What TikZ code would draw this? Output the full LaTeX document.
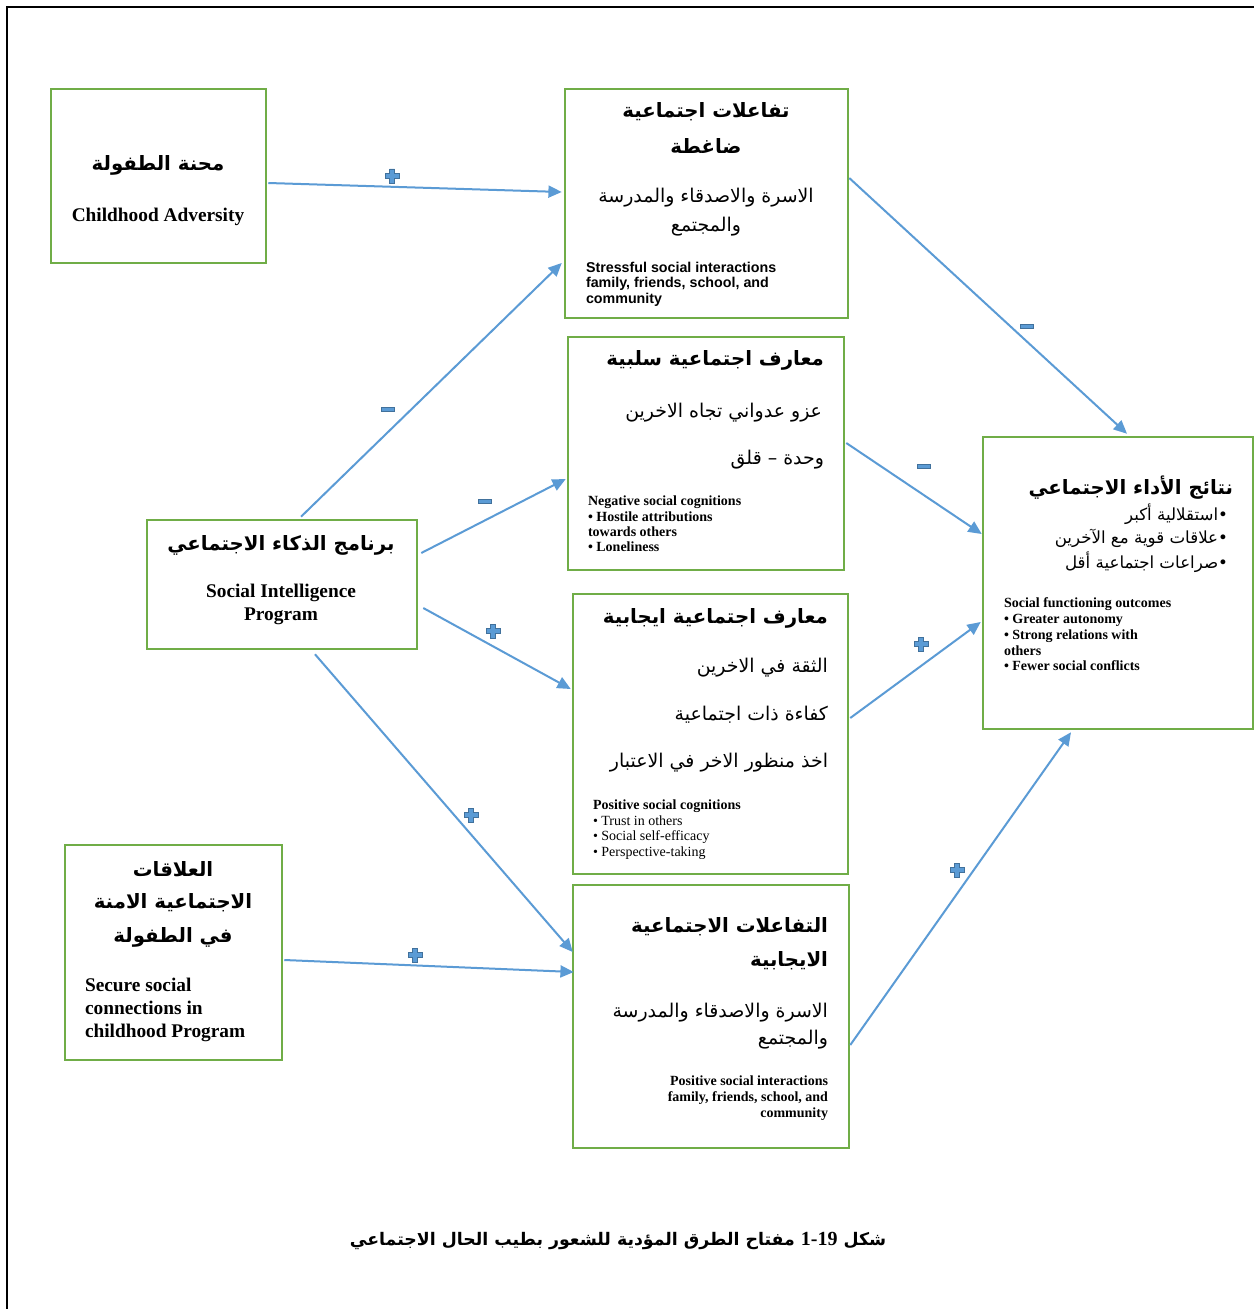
\documentclass[tikz,border=0pt]{standalone}
\usepackage{fontspec}
\setmainfont{Liberation Serif}
\newfontfamily\arf[Script=Arabic]{DejaVu Sans}
\newfontfamily\arialf{Liberation Sans}
\TeXXeTstate=1
\usetikzlibrary{arrows.meta,calc}
\definecolor{boxgreen}{HTML}{70AD47}
\definecolor{arrblue}{HTML}{5B9BD5}
\definecolor{signedge}{HTML}{41719C}
\newcommand\AR[1]{\beginR #1\endR}
\newcommand\mkbox[5]{\node[box, minimum width={(#4-#2)*0.75pt}, minimum height={(#5-#3)*0.75pt}] (#1) at ({(#2+#4)/2},{(#3+#5)/2}) {};}
\tikzset{
  box/.style={draw=boxgreen, line width=1.9pt, rectangle, inner sep=0pt, fill=white},
  arr/.style={draw=arrblue, line width=1.5pt, -{Triangle[length=10pt,width=9pt]}},
  txt/.style={inner sep=0pt, outer sep=0pt},
  artitle/.style={txt, font=\arf\bfseries\fontsize{14.8}{17}\selectfont},
  arreg/.style={txt, font=\arf\fontsize{14.2}{17}\selectfont},
  arsmall/.style={txt, font=\arf\fontsize{12.5}{15}\selectfont},
  enbig/.style={txt, font=\rmfamily\bfseries\fontsize{14.5}{17.3}\selectfont},
  ensmall/.style={txt, font=\rmfamily\bfseries\fontsize{10.5}{11.6}\selectfont},
  pluspic/.pic={\path[fill=arrblue, draw=signedge, line width=0.6pt]
    (-7,-2.5) -- (-2.5,-2.5) -- (-2.5,-7) -- (2.5,-7) -- (2.5,-2.5) -- (7,-2.5) -- (7,2.5)
    -- (2.5,2.5) -- (2.5,7) -- (-2.5,7) -- (-2.5,2.5) -- (-7,2.5) -- cycle;},
  minuspic/.pic={\path[fill=arrblue, draw=signedge, line width=0.6pt] (-6.5,-2) rectangle (6.5,2);}
}
\begin{document}
\begin{tikzpicture}[x=0.75pt,y=-0.75pt]
\useasboundingbox (0,0) rectangle (1254,1309);
\fill[white] (0,0) rectangle (1254,1309);
\draw[black, line width=0.8pt] (7,1309) -- (7,7) -- (1254,7);

% boxes
\mkbox{A}{51}{89}{266}{263}
\mkbox{B}{565}{89}{848}{318}
\mkbox{C}{568}{337}{844}{570}
\mkbox{D}{573}{594}{848}{874}
\mkbox{E}{573}{885}{849}{1148}
\mkbox{F}{147}{520}{417}{649}
\mkbox{G}{65}{845}{282}{1060}
\mkbox{H}{983}{437}{1253}{729}

% A
\node[artitle] (a1) at (158,165) {\AR{محنة الطفولة}};
\node[enbig] (a2) at (158,217) {Childhood Adversity};

% B
\node[artitle] (b1) at (706,112) {\AR{تفاعلات اجتماعية}};
\node[artitle] (b2) at (706,146) {\AR{ضاغطة}};
\node[arreg] (b3) at (706,198) {\AR{الاسرة والاصدقاء والمدرسة}};
\node[arreg] (b4) at (706,227) {\AR{والمجتمع}};
\node[txt, anchor=north west, align=left, font=\arialf\bfseries\fontsize{10.7}{11.6}\selectfont] (b5) at (586,262)
  {Stressful social interactions\\family, friends, school, and\\community};

% C
\node[artitle, anchor=east] (c1) at (824,360) {\AR{معارف اجتماعية سلبية}};
\node[arreg, anchor=east] (c2) at (822,413) {\AR{عزو عدواني تجاه الاخرين}};
\node[arreg, anchor=east] (c3) at (824,460) {\AR{وحدة – قلق}};
\node[ensmall, anchor=north west, align=left, font=\rmfamily\bfseries\fontsize{10.5}{11.5}\selectfont] (c4) at (588,496)
  {Negative social cognitions\\• Hostile attributions\\towards others\\• Loneliness};

% D
\node[artitle, anchor=east] (d1) at (828,618) {\AR{معارف اجتماعية ايجابية}};
\node[arreg, anchor=east] (d2) at (828,668) {\AR{الثقة في الاخرين}};
\node[arreg, anchor=east] (d3) at (828,715) {\AR{كفاءة ذات اجتماعية}};
\node[arreg, anchor=east] (d4) at (828,763) {\AR{اخذ منظور الاخر في الاعتبار}};
\node[txt, anchor=north west, align=left, font=\rmfamily\fontsize{10.5}{11.6}\selectfont] (d5) at (593,800)
  {\textbf{Positive social cognitions}\\• Trust in others\\• Social self-efficacy\\• Perspective-taking};

% E
\node[artitle, anchor=east] (e1) at (828,927) {\AR{التفاعلات الاجتماعية}};
\node[artitle, anchor=east] (e2) at (828,961) {\AR{الايجابية}};
\node[arreg, anchor=east] (e3) at (828,1013) {\AR{الاسرة والاصدقاء والمدرسة}};
\node[arreg, anchor=east] (e4) at (828,1040) {\AR{والمجتمع}};
\node[ensmall, anchor=north east, align=right, font=\rmfamily\bfseries\fontsize{10.5}{12}\selectfont] (e5) at (828,1076)
  {Positive social interactions\\family, friends, school, and\\community};

% F
\node[artitle] (f1) at (281,545) {\AR{برنامج الذكاء الاجتماعي}};
\node[enbig, align=center] (f2) at (281,604) {Social Intelligence\\Program};

% G
\node[artitle] (g1) at (173,869) {\AR{العلاقات}};
\node[artitle] (g2) at (173,903) {\AR{الاجتماعية الامنة}};
\node[artitle] (g3) at (173,937) {\AR{في الطفولة}};
\node[enbig, anchor=north west, align=left] (g4) at (85,978)
  {Secure social\\connections in\\childhood Program};

% H
\node[artitle, anchor=east] (h1) at (1233,488) {\AR{نتائج الأداء الاجتماعي}};
\node[arsmall, anchor=east] (h2) at (1228,514) {\AR{•استقلالية أكبر}};
\node[arsmall, anchor=east] (h3) at (1228,538) {\AR{•علاقات قوية مع الآخرين}};
\node[arsmall, anchor=east] (h4) at (1228,562) {\AR{•صراعات اجتماعية أقل}};
\node[ensmall, anchor=north west, align=left, font=\rmfamily\bfseries\fontsize{10.5}{11.8}\selectfont] (h5) at (1004,598)
  {Social functioning outcomes\\• Greater autonomy\\• Strong relations with\\others\\• Fewer social conflicts};

% caption
\node[txt, font=\arf\bfseries\fontsize{13}{15}\selectfont] (cap) at (618,1241) {\beginR شكل \beginL{\rmfamily\bfseries\fontsize{15}{15}\selectfont 1-19}\endL{} مفتاح الطرق المؤدية للشعور بطيب الحال الاجتماعي\endR};

% connectors
\draw[arr] ($(A.east)+(1,7)$) -- ($(B.west)+(-2,-11.5)$);
\draw[arr] ($(F.north)+(19,-2)$) -- ($(B.west)+(-2,59.5)$);
\draw[arr] ($(F.east)+(3,-31.5)$) -- ($(C.west)+(-1,25.5)$);
\draw[arr] ($(F.east)+(5,23.5)$) -- ($(D.west)+(-1,-45)$);
\draw[arr] ($(F.south)+(33,4)$) -- ($(E.west)+(1,-64.5)$);
\draw[arr] ($(G.east)+(1,7.5)$) -- ($(E.west)+(2,-44.5)$);
\draw[arr] ($(B.east)+(0,-25.5)$) -- ($(H.north)+(9,-2)$);
\draw[arr] ($(C.east)+(1,-10.5)$) -- ($(H.west)+(0,-49)$);
\draw[arr] ($(D.east)+(1,-16)$) -- ($(H.west)+(-1,39)$);
\draw[arr] ($(E.east)+(0,28.5)$) -- ($(H.south)+(-47,2)$);

% signs
\pic at (392,176) {pluspic};
\pic at (388,409) {minuspic};
\pic at (485,501) {minuspic};
\pic at (493,631) {pluspic};
\pic at (471,815) {pluspic};
\pic at (415,955) {pluspic};
\pic at (1027,326) {minuspic};
\pic at (924,466) {minuspic};
\pic at (921,644) {pluspic};
\pic at (957,870) {pluspic};
\end{tikzpicture}
\end{document}
